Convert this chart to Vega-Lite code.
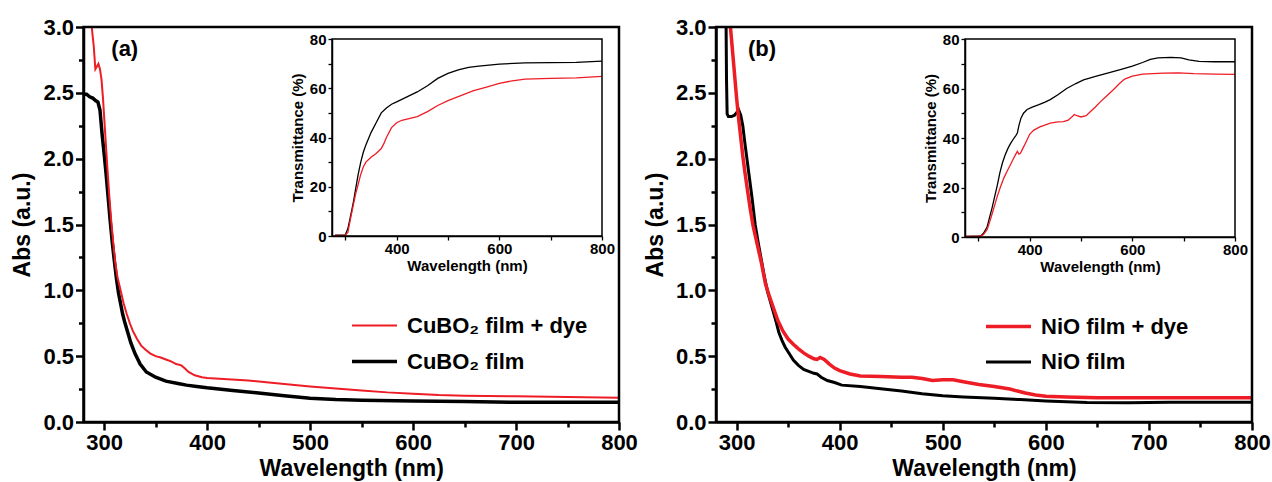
{
"$schema":"https://vega.github.io/schema/vega-lite/v6.json",
"width":1272,"height":482,"autosize":{"type":"none"},"padding":0,"background":"white",
"config":{"view":{"stroke":null},"font":"Liberation Sans",
 "axis":{"labelFont":"Liberation Sans","titleFont":"Liberation Sans","labelFontWeight":"bold","titleFontWeight":"bold","labelColor":"black","titleColor":"black","domainColor":"black","tickColor":"black","grid":false,"labelOverlap":false,"labelFlush":false,"labelBound":false},
 "legend":{"labelFont":"Liberation Sans","labelFontWeight":"bold","labelColor":"black","labelLimit":0}},
"datasets":{
"mainA":[
{"wl":280,"v":2.49,"s":"CuBO₂ film"},{"wl":283,"v":2.49,"s":"CuBO₂ film"},{"wl":286,"v":2.47,"s":"CuBO₂ film"},{"wl":289,"v":2.46,"s":"CuBO₂ film"},{"wl":292,"v":2.44,"s":"CuBO₂ film"},{"wl":294,"v":2.43,"s":"CuBO₂ film"},{"wl":296,"v":2.37,"s":"CuBO₂ film"},{"wl":298,"v":2.19,"s":"CuBO₂ film"},{"wl":300,"v":2.04,"s":"CuBO₂ film"},{"wl":302,"v":1.88,"s":"CuBO₂ film"},{"wl":304,"v":1.7,"s":"CuBO₂ film"},{"wl":306,"v":1.52,"s":"CuBO₂ film"},{"wl":308,"v":1.36,"s":"CuBO₂ film"},{"wl":310,"v":1.22,"s":"CuBO₂ film"},{"wl":312,"v":1.09,"s":"CuBO₂ film"},{"wl":314,"v":0.98,"s":"CuBO₂ film"},{"wl":316,"v":0.9,"s":"CuBO₂ film"},{"wl":318,"v":0.82,"s":"CuBO₂ film"},{"wl":320,"v":0.76,"s":"CuBO₂ film"},{"wl":323,"v":0.68,"s":"CuBO₂ film"},{"wl":326,"v":0.6,"s":"CuBO₂ film"},{"wl":330,"v":0.52,"s":"CuBO₂ film"},{"wl":335,"v":0.44,"s":"CuBO₂ film"},{"wl":341,"v":0.38,"s":"CuBO₂ film"},{"wl":350,"v":0.34,"s":"CuBO₂ film"},{"wl":360,"v":0.31,"s":"CuBO₂ film"},{"wl":373,"v":0.29,"s":"CuBO₂ film"},{"wl":380,"v":0.28,"s":"CuBO₂ film"},{"wl":390,"v":0.27,"s":"CuBO₂ film"},{"wl":400,"v":0.26,"s":"CuBO₂ film"},{"wl":425,"v":0.24,"s":"CuBO₂ film"},{"wl":450,"v":0.22,"s":"CuBO₂ film"},{"wl":475,"v":0.2,"s":"CuBO₂ film"},{"wl":500,"v":0.18,"s":"CuBO₂ film"},{"wl":525,"v":0.17,"s":"CuBO₂ film"},{"wl":550,"v":0.165,"s":"CuBO₂ film"},{"wl":600,"v":0.16,"s":"CuBO₂ film"},{"wl":650,"v":0.155,"s":"CuBO₂ film"},{"wl":700,"v":0.15,"s":"CuBO₂ film"},{"wl":750,"v":0.15,"s":"CuBO₂ film"},{"wl":800,"v":0.15,"s":"CuBO₂ film"},
{"wl":288,"v":3.0,"s":"CuBO₂ film + dye"},{"wl":290,"v":2.85,"s":"CuBO₂ film + dye"},{"wl":291.5,"v":2.68,"s":"CuBO₂ film + dye"},{"wl":293,"v":2.7,"s":"CuBO₂ film + dye"},{"wl":294.5,"v":2.72,"s":"CuBO₂ film + dye"},{"wl":296,"v":2.68,"s":"CuBO₂ film + dye"},{"wl":297.5,"v":2.6,"s":"CuBO₂ film + dye"},{"wl":299,"v":2.45,"s":"CuBO₂ film + dye"},{"wl":301,"v":2.2,"s":"CuBO₂ film + dye"},{"wl":303,"v":1.95,"s":"CuBO₂ film + dye"},{"wl":305,"v":1.72,"s":"CuBO₂ film + dye"},{"wl":307,"v":1.52,"s":"CuBO₂ film + dye"},{"wl":309,"v":1.35,"s":"CuBO₂ film + dye"},{"wl":311,"v":1.2,"s":"CuBO₂ film + dye"},{"wl":313,"v":1.1,"s":"CuBO₂ film + dye"},{"wl":316,"v":1.0,"s":"CuBO₂ film + dye"},{"wl":319,"v":0.9,"s":"CuBO₂ film + dye"},{"wl":322,"v":0.82,"s":"CuBO₂ film + dye"},{"wl":325,"v":0.75,"s":"CuBO₂ film + dye"},{"wl":328,"v":0.69,"s":"CuBO₂ film + dye"},{"wl":332,"v":0.63,"s":"CuBO₂ film + dye"},{"wl":336,"v":0.58,"s":"CuBO₂ film + dye"},{"wl":340,"v":0.55,"s":"CuBO₂ film + dye"},{"wl":345,"v":0.52,"s":"CuBO₂ film + dye"},{"wl":350,"v":0.5,"s":"CuBO₂ film + dye"},{"wl":355,"v":0.49,"s":"CuBO₂ film + dye"},{"wl":360,"v":0.475,"s":"CuBO₂ film + dye"},{"wl":365,"v":0.46,"s":"CuBO₂ film + dye"},{"wl":370,"v":0.44,"s":"CuBO₂ film + dye"},{"wl":375,"v":0.43,"s":"CuBO₂ film + dye"},{"wl":378,"v":0.41,"s":"CuBO₂ film + dye"},{"wl":382,"v":0.38,"s":"CuBO₂ film + dye"},{"wl":388,"v":0.355,"s":"CuBO₂ film + dye"},{"wl":395,"v":0.34,"s":"CuBO₂ film + dye"},{"wl":400,"v":0.335,"s":"CuBO₂ film + dye"},{"wl":420,"v":0.325,"s":"CuBO₂ film + dye"},{"wl":440,"v":0.315,"s":"CuBO₂ film + dye"},{"wl":460,"v":0.3,"s":"CuBO₂ film + dye"},{"wl":480,"v":0.285,"s":"CuBO₂ film + dye"},{"wl":500,"v":0.27,"s":"CuBO₂ film + dye"},{"wl":525,"v":0.255,"s":"CuBO₂ film + dye"},{"wl":550,"v":0.24,"s":"CuBO₂ film + dye"},{"wl":575,"v":0.225,"s":"CuBO₂ film + dye"},{"wl":600,"v":0.215,"s":"CuBO₂ film + dye"},{"wl":625,"v":0.205,"s":"CuBO₂ film + dye"},{"wl":650,"v":0.2,"s":"CuBO₂ film + dye"},{"wl":700,"v":0.195,"s":"CuBO₂ film + dye"},{"wl":750,"v":0.19,"s":"CuBO₂ film + dye"},{"wl":800,"v":0.185,"s":"CuBO₂ film + dye"}
],
"insetA":[
{"wl":280,"v":0.3,"s":"film"},{"wl":295,"v":0.3,"s":"film"},{"wl":300,"v":0.5,"s":"film"},{"wl":305,"v":3,"s":"film"},{"wl":310,"v":8,"s":"film"},{"wl":315,"v":13,"s":"film"},{"wl":320,"v":19,"s":"film"},{"wl":325,"v":25,"s":"film"},{"wl":330,"v":30,"s":"film"},{"wl":335,"v":34,"s":"film"},{"wl":340,"v":37,"s":"film"},{"wl":350,"v":42,"s":"film"},{"wl":360,"v":46,"s":"film"},{"wl":370,"v":50,"s":"film"},{"wl":380,"v":52,"s":"film"},{"wl":390,"v":53.5,"s":"film"},{"wl":400,"v":54.5,"s":"film"},{"wl":420,"v":56.5,"s":"film"},{"wl":440,"v":58.5,"s":"film"},{"wl":460,"v":61,"s":"film"},{"wl":480,"v":64,"s":"film"},{"wl":500,"v":66,"s":"film"},{"wl":520,"v":67.5,"s":"film"},{"wl":540,"v":68.5,"s":"film"},{"wl":560,"v":69,"s":"film"},{"wl":600,"v":69.8,"s":"film"},{"wl":650,"v":70.3,"s":"film"},{"wl":700,"v":70.4,"s":"film"},{"wl":750,"v":70.5,"s":"film"},{"wl":800,"v":71,"s":"film"},
{"wl":280,"v":0.2,"s":"dye"},{"wl":300,"v":0.3,"s":"dye"},{"wl":305,"v":1.5,"s":"dye"},{"wl":310,"v":7,"s":"dye"},{"wl":315,"v":12,"s":"dye"},{"wl":320,"v":17,"s":"dye"},{"wl":325,"v":21,"s":"dye"},{"wl":330,"v":25,"s":"dye"},{"wl":335,"v":28,"s":"dye"},{"wl":340,"v":30,"s":"dye"},{"wl":350,"v":32,"s":"dye"},{"wl":360,"v":33.5,"s":"dye"},{"wl":370,"v":35.5,"s":"dye"},{"wl":375,"v":37.5,"s":"dye"},{"wl":380,"v":40,"s":"dye"},{"wl":390,"v":44,"s":"dye"},{"wl":400,"v":46,"s":"dye"},{"wl":410,"v":47,"s":"dye"},{"wl":420,"v":47.5,"s":"dye"},{"wl":440,"v":48.5,"s":"dye"},{"wl":460,"v":50.5,"s":"dye"},{"wl":480,"v":53,"s":"dye"},{"wl":500,"v":55,"s":"dye"},{"wl":525,"v":57,"s":"dye"},{"wl":550,"v":59,"s":"dye"},{"wl":575,"v":60.5,"s":"dye"},{"wl":600,"v":62,"s":"dye"},{"wl":625,"v":63,"s":"dye"},{"wl":650,"v":63.7,"s":"dye"},{"wl":700,"v":64,"s":"dye"},{"wl":750,"v":64.2,"s":"dye"},{"wl":800,"v":64.8,"s":"dye"}
],
"mainB":[
{"wl":289.8,"v":3.0,"s":"NiO film"},{"wl":290.2,"v":2.6,"s":"NiO film"},{"wl":290.8,"v":2.34,"s":"NiO film"},{"wl":292,"v":2.32,"s":"NiO film"},{"wl":295,"v":2.32,"s":"NiO film"},{"wl":298,"v":2.33,"s":"NiO film"},{"wl":300,"v":2.35,"s":"NiO film"},{"wl":302,"v":2.37,"s":"NiO film"},{"wl":304,"v":2.33,"s":"NiO film"},{"wl":306,"v":2.25,"s":"NiO film"},{"wl":308,"v":2.12,"s":"NiO film"},{"wl":310,"v":2.0,"s":"NiO film"},{"wl":312,"v":1.88,"s":"NiO film"},{"wl":315,"v":1.7,"s":"NiO film"},{"wl":318,"v":1.5,"s":"NiO film"},{"wl":321,"v":1.36,"s":"NiO film"},{"wl":324,"v":1.23,"s":"NiO film"},{"wl":327,"v":1.1,"s":"NiO film"},{"wl":330,"v":0.99,"s":"NiO film"},{"wl":334,"v":0.88,"s":"NiO film"},{"wl":338,"v":0.77,"s":"NiO film"},{"wl":341,"v":0.68,"s":"NiO film"},{"wl":344,"v":0.62,"s":"NiO film"},{"wl":347,"v":0.57,"s":"NiO film"},{"wl":351,"v":0.52,"s":"NiO film"},{"wl":355,"v":0.47,"s":"NiO film"},{"wl":360,"v":0.43,"s":"NiO film"},{"wl":365,"v":0.4,"s":"NiO film"},{"wl":370,"v":0.385,"s":"NiO film"},{"wl":375,"v":0.37,"s":"NiO film"},{"wl":378,"v":0.365,"s":"NiO film"},{"wl":382,"v":0.34,"s":"NiO film"},{"wl":388,"v":0.315,"s":"NiO film"},{"wl":395,"v":0.3,"s":"NiO film"},{"wl":402,"v":0.28,"s":"NiO film"},{"wl":420,"v":0.27,"s":"NiO film"},{"wl":442,"v":0.25,"s":"NiO film"},{"wl":460,"v":0.235,"s":"NiO film"},{"wl":480,"v":0.215,"s":"NiO film"},{"wl":500,"v":0.2,"s":"NiO film"},{"wl":520,"v":0.19,"s":"NiO film"},{"wl":550,"v":0.18,"s":"NiO film"},{"wl":575,"v":0.17,"s":"NiO film"},{"wl":600,"v":0.16,"s":"NiO film"},{"wl":640,"v":0.148,"s":"NiO film"},{"wl":680,"v":0.147,"s":"NiO film"},{"wl":720,"v":0.15,"s":"NiO film"},{"wl":760,"v":0.15,"s":"NiO film"},{"wl":800,"v":0.15,"s":"NiO film"},
{"wl":294,"v":3.0,"s":"NiO film + dye"},{"wl":296,"v":2.82,"s":"NiO film + dye"},{"wl":298,"v":2.64,"s":"NiO film + dye"},{"wl":300,"v":2.46,"s":"NiO film + dye"},{"wl":302,"v":2.3,"s":"NiO film + dye"},{"wl":304,"v":2.16,"s":"NiO film + dye"},{"wl":306,"v":2.02,"s":"NiO film + dye"},{"wl":308,"v":1.9,"s":"NiO film + dye"},{"wl":310,"v":1.79,"s":"NiO film + dye"},{"wl":313,"v":1.63,"s":"NiO film + dye"},{"wl":316,"v":1.49,"s":"NiO film + dye"},{"wl":320,"v":1.35,"s":"NiO film + dye"},{"wl":324,"v":1.21,"s":"NiO film + dye"},{"wl":328,"v":1.05,"s":"NiO film + dye"},{"wl":332,"v":0.95,"s":"NiO film + dye"},{"wl":336,"v":0.86,"s":"NiO film + dye"},{"wl":340,"v":0.77,"s":"NiO film + dye"},{"wl":345,"v":0.69,"s":"NiO film + dye"},{"wl":350,"v":0.63,"s":"NiO film + dye"},{"wl":355,"v":0.59,"s":"NiO film + dye"},{"wl":360,"v":0.555,"s":"NiO film + dye"},{"wl":365,"v":0.525,"s":"NiO film + dye"},{"wl":370,"v":0.5,"s":"NiO film + dye"},{"wl":375,"v":0.48,"s":"NiO film + dye"},{"wl":378,"v":0.475,"s":"NiO film + dye"},{"wl":381,"v":0.49,"s":"NiO film + dye"},{"wl":385,"v":0.475,"s":"NiO film + dye"},{"wl":390,"v":0.44,"s":"NiO film + dye"},{"wl":395,"v":0.41,"s":"NiO film + dye"},{"wl":400,"v":0.39,"s":"NiO film + dye"},{"wl":410,"v":0.365,"s":"NiO film + dye"},{"wl":420,"v":0.35,"s":"NiO film + dye"},{"wl":440,"v":0.345,"s":"NiO film + dye"},{"wl":460,"v":0.34,"s":"NiO film + dye"},{"wl":470,"v":0.34,"s":"NiO film + dye"},{"wl":480,"v":0.33,"s":"NiO film + dye"},{"wl":490,"v":0.315,"s":"NiO film + dye"},{"wl":500,"v":0.32,"s":"NiO film + dye"},{"wl":510,"v":0.32,"s":"NiO film + dye"},{"wl":520,"v":0.305,"s":"NiO film + dye"},{"wl":535,"v":0.285,"s":"NiO film + dye"},{"wl":550,"v":0.27,"s":"NiO film + dye"},{"wl":565,"v":0.25,"s":"NiO film + dye"},{"wl":580,"v":0.22,"s":"NiO film + dye"},{"wl":590,"v":0.205,"s":"NiO film + dye"},{"wl":600,"v":0.195,"s":"NiO film + dye"},{"wl":620,"v":0.19,"s":"NiO film + dye"},{"wl":650,"v":0.185,"s":"NiO film + dye"},{"wl":700,"v":0.185,"s":"NiO film + dye"},{"wl":750,"v":0.185,"s":"NiO film + dye"},{"wl":800,"v":0.185,"s":"NiO film + dye"}
],
"insetB":[
{"wl":275,"v":0.2,"s":"film"},{"wl":290,"v":0.3,"s":"film"},{"wl":300,"v":0.3,"s":"film"},{"wl":305,"v":0.5,"s":"film"},{"wl":310,"v":1.5,"s":"film"},{"wl":317,"v":4,"s":"film"},{"wl":322,"v":8,"s":"film"},{"wl":327,"v":12,"s":"film"},{"wl":332,"v":16.5,"s":"film"},{"wl":337,"v":21,"s":"film"},{"wl":342,"v":26,"s":"film"},{"wl":347,"v":30,"s":"film"},{"wl":352,"v":33,"s":"film"},{"wl":357,"v":35.5,"s":"film"},{"wl":362,"v":37.5,"s":"film"},{"wl":368,"v":39.5,"s":"film"},{"wl":373,"v":41,"s":"film"},{"wl":376,"v":42,"s":"film"},{"wl":379,"v":45,"s":"film"},{"wl":383,"v":48,"s":"film"},{"wl":388,"v":50,"s":"film"},{"wl":395,"v":51.5,"s":"film"},{"wl":405,"v":52.5,"s":"film"},{"wl":418,"v":53.5,"s":"film"},{"wl":430,"v":54.5,"s":"film"},{"wl":440,"v":55.5,"s":"film"},{"wl":455,"v":57.5,"s":"film"},{"wl":472,"v":60,"s":"film"},{"wl":490,"v":62,"s":"film"},{"wl":505,"v":63.5,"s":"film"},{"wl":530,"v":65,"s":"film"},{"wl":557,"v":66.5,"s":"film"},{"wl":580,"v":67.8,"s":"film"},{"wl":600,"v":69,"s":"film"},{"wl":620,"v":70.5,"s":"film"},{"wl":635,"v":71.8,"s":"film"},{"wl":650,"v":72.4,"s":"film"},{"wl":675,"v":72.6,"s":"film"},{"wl":695,"v":72.4,"s":"film"},{"wl":710,"v":71.6,"s":"film"},{"wl":730,"v":71,"s":"film"},{"wl":760,"v":70.8,"s":"film"},{"wl":800,"v":70.8,"s":"film"},
{"wl":275,"v":0.2,"s":"dye"},{"wl":300,"v":0.3,"s":"dye"},{"wl":305,"v":0.4,"s":"dye"},{"wl":310,"v":1,"s":"dye"},{"wl":317,"v":3,"s":"dye"},{"wl":322,"v":6,"s":"dye"},{"wl":327,"v":9.5,"s":"dye"},{"wl":332,"v":13,"s":"dye"},{"wl":337,"v":16.5,"s":"dye"},{"wl":343,"v":20.2,"s":"dye"},{"wl":350,"v":24,"s":"dye"},{"wl":357,"v":27,"s":"dye"},{"wl":362,"v":29,"s":"dye"},{"wl":368,"v":31.5,"s":"dye"},{"wl":373,"v":33.5,"s":"dye"},{"wl":376,"v":34.6,"s":"dye"},{"wl":379,"v":33.5,"s":"dye"},{"wl":382,"v":33.8,"s":"dye"},{"wl":386,"v":35.5,"s":"dye"},{"wl":392,"v":38,"s":"dye"},{"wl":400,"v":41.5,"s":"dye"},{"wl":408,"v":43.2,"s":"dye"},{"wl":420,"v":44.5,"s":"dye"},{"wl":440,"v":46,"s":"dye"},{"wl":455,"v":46.5,"s":"dye"},{"wl":466,"v":46.6,"s":"dye"},{"wl":475,"v":47.2,"s":"dye"},{"wl":482,"v":48.5,"s":"dye"},{"wl":487,"v":49.5,"s":"dye"},{"wl":492,"v":49,"s":"dye"},{"wl":500,"v":48.5,"s":"dye"},{"wl":510,"v":49,"s":"dye"},{"wl":518,"v":50.6,"s":"dye"},{"wl":528,"v":52.5,"s":"dye"},{"wl":538,"v":54.7,"s":"dye"},{"wl":550,"v":57,"s":"dye"},{"wl":563,"v":59.5,"s":"dye"},{"wl":575,"v":62,"s":"dye"},{"wl":585,"v":63.8,"s":"dye"},{"wl":600,"v":65,"s":"dye"},{"wl":620,"v":65.8,"s":"dye"},{"wl":640,"v":66,"s":"dye"},{"wl":660,"v":66.2,"s":"dye"},{"wl":690,"v":66.3,"s":"dye"},{"wl":720,"v":66,"s":"dye"},{"wl":760,"v":65.8,"s":"dye"},{"wl":800,"v":65.7,"s":"dye"}
]
},
"layer":[
{"data":{"name":"mainA"},"mark":{"type":"line"},
 "encoding":{
  "x":{"field":"wl","type":"quantitative","scale":{"domain":[280,800],"range":[83.5,619],"nice":false,"zero":false},
   "axis":{"orient":"bottom","offset":-60,"values":[300,400,500,600,700,800],"tickSize":8,"tickWidth":2.5,"domainWidth":2.5,"labelFontSize":22,"labelPadding":2,"title":"Wavelength (nm)","titleFontSize":23,"titlePadding":4}},
  "y":{"field":"v","type":"quantitative","scale":{"domain":[0,3],"range":[422,27],"nice":false,"zero":false},
   "axis":{"orient":"left","offset":-83.5,"values":[0,0.5,1,1.5,2,2.5,3],"format":".1f","tickSize":8,"tickWidth":2.5,"domainWidth":2.5,"labelFontSize":22,"labelPadding":2,"title":"Abs (a.u.)","titleFontSize":23,"titlePadding":8}},
  "color":{"field":"s","type":"nominal","scale":{"domain":["CuBO₂ film + dye","CuBO₂ film"],"range":["#ee1c25","#000000"]},
   "legend":{"orient":"none","legendX":350,"legendY":302,"title":null,"symbolType":"stroke","symbolSize":2025,"labelFontSize":22,"labelOffset":8,"labelLimit":0,"rowPadding":-10,"padding":0}},
  "strokeWidth":{"field":"s","type":"nominal","scale":{"domain":["CuBO₂ film + dye","CuBO₂ film"],"range":[2,3.5]},
   "legend":{"orient":"none","legendX":350,"legendY":302,"title":null,"symbolType":"stroke","symbolSize":2025,"labelFontSize":22,"labelOffset":8,"labelLimit":0,"rowPadding":-10,"padding":0}}
 }},
{"data":{"values":[{}]},"mark":{"type":"rect","filled":false,"stroke":"black","strokeWidth":2.5},
 "encoding":{
  "x":{"datum":280,"type":"quantitative","scale":{"domain":[280,800],"range":[83.5,619],"nice":false,"zero":false},
   "axis":{"orient":"bottom","offset":-60,"values":[350,450,550,650,750],"labels":false,"domain":false,"tickSize":5,"tickWidth":2.5,"title":null}},
  "x2":{"datum":800},
  "y":{"datum":0,"type":"quantitative","scale":{"domain":[0,3],"range":[422,27],"nice":false,"zero":false},
   "axis":{"orient":"left","offset":-83.5,"values":[0.25,0.75,1.25,1.75,2.25,2.75],"labels":false,"domain":false,"tickSize":5,"tickWidth":2.5,"title":null}},
  "y2":{"datum":3}
 }},
{"data":{"values":[{"t":"(a)"}]},"mark":{"type":"text","align":"left","baseline":"middle","fontSize":22,"fontWeight":"bold","font":"Liberation Sans","color":"black"},
 "encoding":{"text":{"field":"t"},
  "x":{"datum":307,"type":"quantitative","scale":{"domain":[280,800],"range":[83.5,619],"nice":false,"zero":false},"axis":null},
  "y":{"datum":2.83,"type":"quantitative","scale":{"domain":[0,3],"range":[422,27],"nice":false,"zero":false},"axis":null}}},
{"data":{"name":"insetA"},"mark":{"type":"line","strokeWidth":1.3},
 "encoding":{
  "x":{"field":"wl","type":"quantitative","scale":{"domain":[274,800],"range":[332,602],"nice":false,"zero":false},
   "axis":{"orient":"bottom","offset":-246,"values":[300,400,500,600,700,800],"labelExpr":"datum.value % 200 === 0 ? datum.label : ''","tickSize":4,"tickWidth":1.3,"domainWidth":1.5,"labelFontSize":15,"labelPadding":1,"title":"Wavelength (nm)","titleFontSize":15,"titlePadding":2}},
  "y":{"field":"v","type":"quantitative","scale":{"domain":[0,80],"range":[236,39],"nice":false,"zero":false},
   "axis":{"orient":"left","offset":-332,"values":[0,10,20,30,40,50,60,70,80],"labelExpr":"datum.value % 20 === 0 ? datum.label : ''","tickSize":4,"tickWidth":1.3,"domainWidth":1.5,"labelFontSize":15,"labelPadding":2,"title":"Transmittance (%)","titleFontSize":15,"titlePadding":4}},
  "color":{"field":"s","type":"nominal","scale":{"domain":["dye","film"],"range":["#ee1c25","#000000"]},"legend":null}
 }},
{"data":{"values":[{}]},"mark":{"type":"rect","filled":false,"stroke":"black","strokeWidth":1.5},
 "encoding":{
  "x":{"datum":274,"type":"quantitative","scale":{"domain":[274,800],"range":[332,602],"nice":false,"zero":false},"axis":null},
  "x2":{"datum":800},
  "y":{"datum":0,"type":"quantitative","scale":{"domain":[0,80],"range":[236,39],"nice":false,"zero":false},"axis":null},
  "y2":{"datum":80}
 }},
{"data":{"name":"mainB"},"mark":{"type":"line"},
 "encoding":{
  "x":{"field":"wl","type":"quantitative","scale":{"domain":[280,800],"range":[716,1252],"nice":false,"zero":false},
   "axis":{"orient":"bottom","offset":-60,"values":[300,400,500,600,700,800],"tickSize":8,"tickWidth":2.5,"domainWidth":2.5,"labelFontSize":22,"labelPadding":2,"title":"Wavelength (nm)","titleFontSize":23,"titlePadding":4}},
  "y":{"field":"v","type":"quantitative","scale":{"domain":[0,3],"range":[422,27],"nice":false,"zero":false},
   "axis":{"orient":"left","offset":-716,"values":[0,0.5,1,1.5,2,2.5,3],"format":".1f","tickSize":8,"tickWidth":2.5,"domainWidth":2.5,"labelFontSize":22,"labelPadding":2,"title":"Abs (a.u.)","titleFontSize":23,"titlePadding":8}},
  "color":{"field":"s","type":"nominal","scale":{"domain":["NiO film + dye","NiO film"],"range":["#ee1c25","#000000"]},
   "legend":{"orient":"none","legendX":984,"legendY":302,"title":null,"symbolType":"stroke","symbolSize":2025,"labelFontSize":22,"labelOffset":8,"labelLimit":0,"rowPadding":-10,"padding":0}},
  "strokeWidth":{"field":"s","type":"nominal","scale":{"domain":["NiO film + dye","NiO film"],"range":[3.5,3]},
   "legend":{"orient":"none","legendX":984,"legendY":302,"title":null,"symbolType":"stroke","symbolSize":2025,"labelFontSize":22,"labelOffset":8,"labelLimit":0,"rowPadding":-10,"padding":0}}
 }},
{"data":{"values":[{}]},"mark":{"type":"rect","filled":false,"stroke":"black","strokeWidth":2.5},
 "encoding":{
  "x":{"datum":280,"type":"quantitative","scale":{"domain":[280,800],"range":[716,1252],"nice":false,"zero":false},
   "axis":{"orient":"bottom","offset":-60,"values":[350,450,550,650,750],"labels":false,"domain":false,"tickSize":5,"tickWidth":2.5,"title":null}},
  "x2":{"datum":800},
  "y":{"datum":0,"type":"quantitative","scale":{"domain":[0,3],"range":[422,27],"nice":false,"zero":false},
   "axis":{"orient":"left","offset":-716,"values":[0.25,0.75,1.25,1.75,2.25,2.75],"labels":false,"domain":false,"tickSize":5,"tickWidth":2.5,"title":null}},
  "y2":{"datum":3}
 }},
{"data":{"values":[{"t":"(b)"}]},"mark":{"type":"text","align":"left","baseline":"middle","fontSize":22,"fontWeight":"bold","font":"Liberation Sans","color":"black"},
 "encoding":{"text":{"field":"t"},
  "x":{"datum":311,"type":"quantitative","scale":{"domain":[280,800],"range":[716,1252],"nice":false,"zero":false},"axis":null},
  "y":{"datum":2.83,"type":"quantitative","scale":{"domain":[0,3],"range":[422,27],"nice":false,"zero":false},"axis":null}}},
{"data":{"name":"insetB"},"mark":{"type":"line","strokeWidth":1.3},
 "encoding":{
  "x":{"field":"wl","type":"quantitative","scale":{"domain":[274,800],"range":[965,1235],"nice":false,"zero":false},
   "axis":{"orient":"bottom","offset":-245,"values":[300,400,500,600,700,800],"labelExpr":"datum.value % 200 === 0 ? datum.label : ''","tickSize":4,"tickWidth":1.3,"domainWidth":1.5,"labelFontSize":15,"labelPadding":1,"title":"Wavelength (nm)","titleFontSize":15,"titlePadding":2}},
  "y":{"field":"v","type":"quantitative","scale":{"domain":[0,80],"range":[237,39],"nice":false,"zero":false},
   "axis":{"orient":"left","offset":-965,"values":[0,10,20,30,40,50,60,70,80],"labelExpr":"datum.value % 20 === 0 ? datum.label : ''","tickSize":4,"tickWidth":1.3,"domainWidth":1.5,"labelFontSize":15,"labelPadding":2,"title":"Transmittance (%)","titleFontSize":15,"titlePadding":4}},
  "color":{"field":"s","type":"nominal","scale":{"domain":["dye","film"],"range":["#ee1c25","#000000"]},"legend":null}
 }},
{"data":{"values":[{}]},"mark":{"type":"rect","filled":false,"stroke":"black","strokeWidth":1.5},
 "encoding":{
  "x":{"datum":274,"type":"quantitative","scale":{"domain":[274,800],"range":[965,1235],"nice":false,"zero":false},"axis":null},
  "x2":{"datum":800},
  "y":{"datum":0,"type":"quantitative","scale":{"domain":[0,80],"range":[237,39],"nice":false,"zero":false},"axis":null},
  "y2":{"datum":80}
 }}
],
"resolve":{"scale":{"x":"independent","y":"independent","color":"independent","strokeWidth":"independent"},"axis":{"x":"independent","y":"independent"},"legend":{"color":"independent","strokeWidth":"independent"}}
}
